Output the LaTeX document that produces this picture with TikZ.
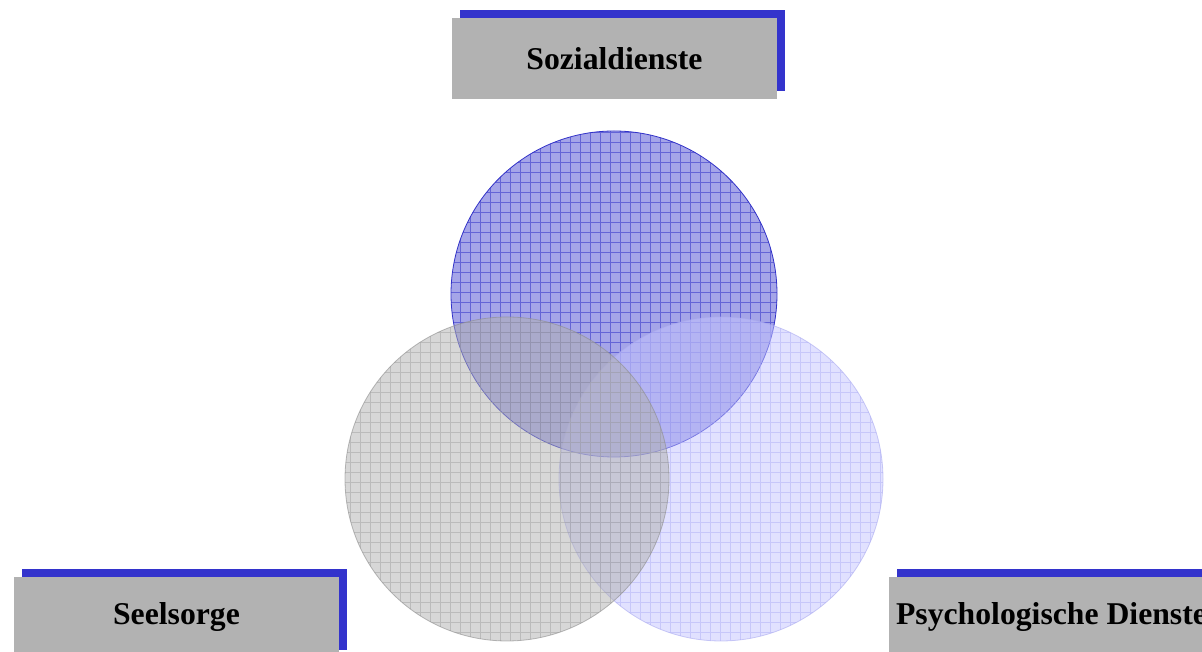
\documentclass[tikz,border=0pt]{standalone}
\usepackage{fontspec}
\setmainfont{Liberation Serif}
\usetikzlibrary{shadows}
\definecolor{boxgray}{RGB}{178,178,178}
\definecolor{shadowblue}{RGB}{51,51,204}
\definecolor{cblue}{RGB}{165,165,232}
\definecolor{cbluegrid}{RGB}{100,100,214}
\definecolor{cblueedge}{RGB}{50,50,200}
\definecolor{cgray}{RGB}{175,175,175}
\definecolor{cgraygrid}{RGB}{160,160,160}
\definecolor{cgrayedge}{RGB}{140,140,140}
\definecolor{clight}{RGB}{195,195,255}
\definecolor{clightgrid}{RGB}{175,175,245}
\definecolor{clightedge}{RGB}{170,170,240}
\tikzset{
  labelbox/.style={rectangle, fill=boxgray, minimum width=325pt, minimum height=81pt,
    inner sep=0pt, font=\fontsize{31.7}{38}\selectfont\bfseries, text=black,
    general shadow={shadow xshift=8pt, shadow yshift=8pt, fill=shadowblue}},
  gridlines/.style={line width=0.6pt}
}
\begin{document}
\begin{tikzpicture}[x=1pt,y=1pt]
\useasboundingbox (0,0) rectangle (1202,652);
\clip (0,0) rectangle (1202,652);
% circle centres
\coordinate (cs) at (614,358);
\coordinate (cg) at (507,173);
\coordinate (cl) at (721,173);
% blue circle (Sozialdienste)
\fill[cblue] (cs) circle (163);
\begin{scope}
  \clip (cs) circle (163);
  \draw[gridlines, cbluegrid, step=10pt] (440,180) grid (790,530);
\end{scope}
\draw[cblueedge, line width=0.8pt] (cs) circle (163);
% light blue circle (Psychologische Dienste)
\fill[clight, fill opacity=0.5] (cl) circle (162);
\begin{scope}
  \clip (cl) circle (162);
  \draw[gridlines, clightgrid, draw opacity=0.5, step=10pt] (550,0) grid (890,340);
\end{scope}
\draw[clightedge, draw opacity=0.6, line width=0.8pt] (cl) circle (162);
% gray circle (Seelsorge)
\fill[cgray, fill opacity=0.5] (cg) circle (162);
\begin{scope}
  \clip (cg) circle (162);
  \draw[gridlines, cgraygrid, draw opacity=0.5, step=10pt] (340,0) grid (680,340);
\end{scope}
\draw[cgrayedge, draw opacity=0.6, line width=0.8pt] (cg) circle (162);
% label boxes
\node[labelbox] (soz) at (614.5,593.5) {Sozialdienste};
\node[labelbox] (see) at (176.5,34.5) {Seelsorge};
\node[labelbox] (psy) at (1051.5,34.5) {Psychologische Dienste};
\end{tikzpicture}
\end{document}
